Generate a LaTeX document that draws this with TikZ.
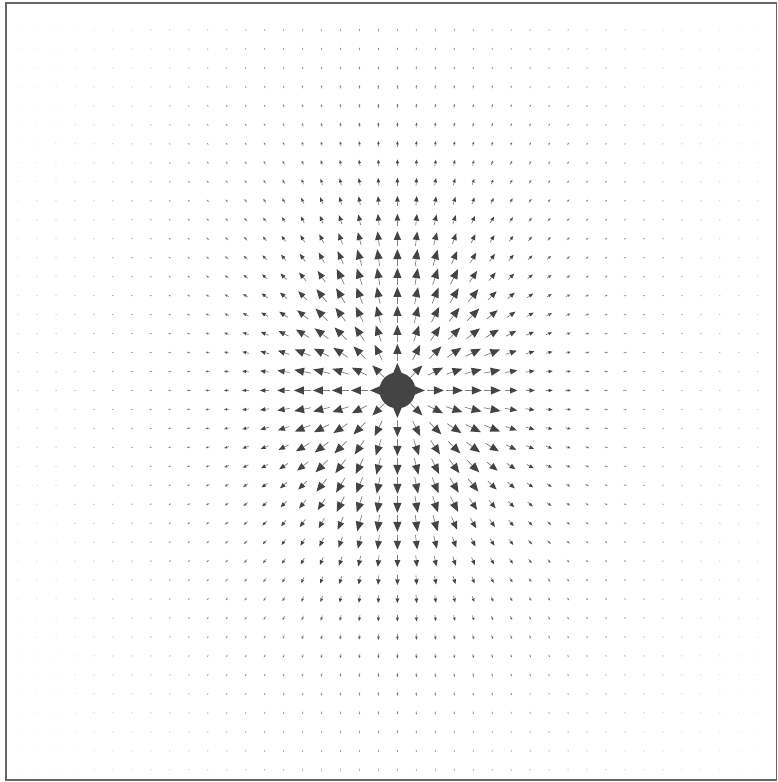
\documentclass[tikz,border=0pt]{standalone}
\definecolor{chg}{HTML}{444444}
\definecolor{stem}{HTML}{808080}
\definecolor{frame}{HTML}{666666}
\tikzset{
  stemline/.style={line width=0.7pt, color=stem},
  headfill/.style={fill=chg},
  framebox/.style={line width=1.3pt, draw=frame},
  charge/.style={circle, fill=chg, minimum size=36pt, inner sep=0pt}
}
\begin{document}
\begin{tikzpicture}[x=1pt,y=-1pt]
\useasboundingbox (0,0) rectangle (778,782);
\fill[white] (0,0) rectangle (778,782);
\foreach \i in {0,...,39}{
  \foreach \j in {0,...,39}{
    \pgfmathtruncatemacro{\skip}{(\i==20)&&(\j==19)}
    \ifnum\skip=0
      \pgfmathsetmacro{\px}{18+18.97*\i}
      \pgfmathsetmacro{\py}{30+18.97*\j}
      \pgfmathsetmacro{\dx}{\i-20}
      \pgfmathsetmacro{\dy}{\j-19}
      \pgfmathsetmacro{\r}{sqrt(\dx*\dx+\dy*\dy)}
      \pgfmathsetmacro{\re}{sqrt(\dx*\dx+\dy*\dy/2.13)}
      \pgfmathsetmacro{\L}{min(17,450/(\re*\re))}
      \pgfmathsetmacro{\ux}{\dx/\r}
      \pgfmathsetmacro{\uy}{\dy/\r}
      \pgfmathsetmacro{\op}{min(1,8/\re)}
      \pgfmathsetmacro{\h}{0.58*\L}
      \pgfmathsetmacro{\w}{0.42*\h}
      \pgfmathsetmacro{\tx}{\px-0.5*\L*\ux}
      \pgfmathsetmacro{\ty}{\py-0.5*\L*\uy}
      \pgfmathsetmacro{\hx}{\px+0.5*\L*\ux}
      \pgfmathsetmacro{\hy}{\py+0.5*\L*\uy}
      \pgfmathsetmacro{\bx}{\hx-\h*\ux}
      \pgfmathsetmacro{\by}{\hy-\h*\uy}
      \pgfmathsetmacro{\ax}{\bx-\w*\uy}
      \pgfmathsetmacro{\ay}{\by+\w*\ux}
      \pgfmathsetmacro{\cx}{\bx+\w*\uy}
      \pgfmathsetmacro{\cy}{\by-\w*\ux}
      \draw[stemline, opacity=\op] (\tx,\ty) -- (\bx,\by);
      \fill[headfill, opacity=\op] (\hx,\hy) -- (\ax,\ay) -- (\cx,\cy) -- cycle;
    \fi
  }
}
\node[charge] (q) at (397.4,390.4) {};
\draw[framebox] (6,3) rectangle (776.5,780);
\end{tikzpicture}
\end{document}
